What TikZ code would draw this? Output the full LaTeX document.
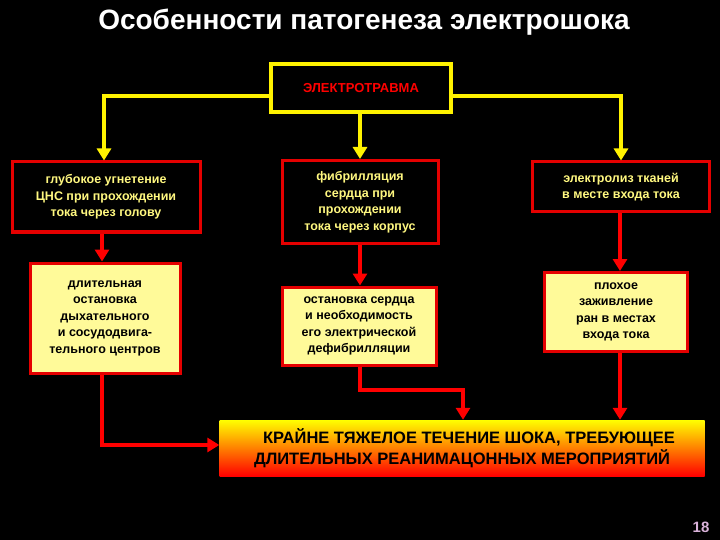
\documentclass[tikz,border=0pt]{standalone}
\usepackage{fontspec}
\setmainfont{Liberation Sans}
\usetikzlibrary{arrows.meta}
\begin{document}
\begin{tikzpicture}[x=1pt,y=-1pt,
 redbox/.style={draw=red!90!black,line width=3pt,fill=black,text=yellow!50!white,font=\bfseries\fontsize{12.5}{16.5}\selectfont,align=center,inner sep=0pt},
 ybox/.style={draw=red!90!black,line width=3pt,fill=yellow!40!white,text=black,font=\bfseries\fontsize{12.5}{16.5}\selectfont,align=center,inner sep=0pt},
 yline/.style={draw=yellow,line width=3.5pt,-{Triangle[width=14pt,length=12pt]}},
 rline/.style={draw=red,line width=3.5pt,-{Triangle[width=14pt,length=12pt]}},
]
\fill[black] (0,0) rectangle (720,540);
\node[font=\bfseries\fontsize{28}{30}\selectfont,text=white] (title) at (364,22) {Особенности патогенеза электрошока};
\node[draw=yellow,line width=4pt,fill=black,minimum width=180,minimum height=48,text=red,font=\bfseries\fontsize{13}{15}\selectfont] (top) at (361,88) {ЭЛЕКТРОТРАВМА};
\node[redbox,minimum width=188,minimum height=70] (a1) at (106,197) {глубокое угнетение\\ЦНС при прохождении\\тока через голову};
\node[redbox,minimum width=156,minimum height=83] (b1) at (360,202) {фибрилляция\\сердца при\\прохождении\\тока через корпус};
\node[redbox,minimum width=177,minimum height=50] (c1) at (621,187) {электролиз тканей\\в месте входа тока};
\node[ybox,minimum width=150,minimum height=110] (a2) at (105,318) {длительная\\остановка\\дыхательного\\и сосудодвига-\\тельного центров};
\node[ybox,minimum width=154,minimum height=78] (b2) at (359,326) {остановка сердца\\и необходимость\\его электрической\\дефибрилляции};
\node[ybox,minimum width=143,minimum height=79] (c2) at (616,312) {плохое\\заживление\\ран в местах\\входа тока};
\node[inner sep=0pt,minimum width=485,minimum height=56,top color=yellow,bottom color=red,middle color=orange,font=\bfseries\fontsize{16.5}{21}\selectfont,align=center] (bot) at (462,448) {\hspace*{14pt}КРАЙНЕ ТЯЖЕЛОЕ ТЕЧЕНИЕ ШОКА, ТРЕБУЮЩЕЕ\\ДЛИТЕЛЬНЫХ РЕАНИМАЦОННЫХ МЕРОПРИЯТИЙ};
\node[font=\bfseries\fontsize{15}{16}\selectfont,text=violet!30!white] (num) at (701,527) {18};
\draw[yline] (top.west |- 0,96) -| (a1.north -| 104,0);
\draw[yline] (top.east |- 0,96) -| (c1.north -| 621,0);
\draw[yline] (top.south -| 360,0) -- (b1.north -| 360,0);
\draw[rline] (a1.south -| 102,0) -- (a2.north -| 102,0);
\draw[rline] (b1.south -| 360,0) -- (b2.north -| 360,0);
\draw[rline] (c1.south -| 620,0) -- (c2.north -| 620,0);
\draw[rline] (a2.south -| 102,0) |- (bot.west |- 0,445);
\draw[rline] (b2.south -| 360,0) -- (360,390) -| (bot.north -| 463,0);
\draw[rline] (c2.south -| 620,0) -- (bot.north -| 620,0);
\end{tikzpicture}
\end{document}
